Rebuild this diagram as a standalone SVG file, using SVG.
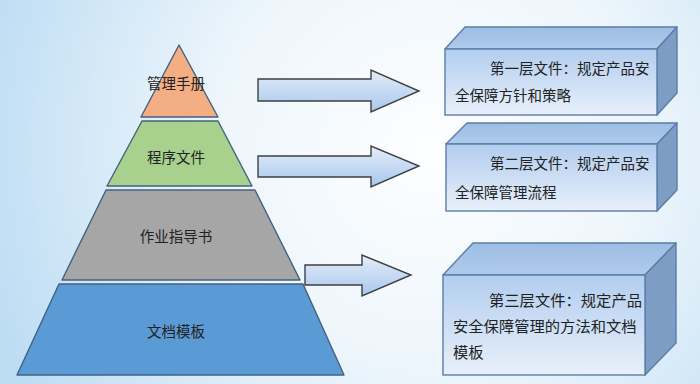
<svg xmlns="http://www.w3.org/2000/svg" width="700" height="384" viewBox="0 0 700 384">
<defs>
<radialGradient id="bg" cx="430" cy="150" r="470" gradientUnits="userSpaceOnUse">
<stop offset="0" stop-color="#fdfeff"/>
<stop offset="0.45" stop-color="#eef6fc"/>
<stop offset="1" stop-color="#bcdcf3"/>
</radialGradient>
<linearGradient id="arrowG" x1="0" y1="0" x2="0" y2="1">
<stop offset="0" stop-color="#e4edf8"/>
<stop offset="1" stop-color="#a8c7ee"/>
</linearGradient>
<linearGradient id="frontG" x1="0" y1="0" x2="0" y2="1">
<stop offset="0" stop-color="#b2cdef"/>
<stop offset="1" stop-color="#e8f0fa"/>
</linearGradient>
<linearGradient id="topG" x1="0" y1="0" x2="0" y2="1">
<stop offset="0" stop-color="#9dbde3"/>
<stop offset="1" stop-color="#b0cbec"/>
</linearGradient>
<style>
.lvl{stroke:#43617f;stroke-width:1.4;stroke-linejoin:round}
.arrow{fill:url(#arrowG);stroke:#3f3f3f;stroke-width:1.4;stroke-linejoin:miter}
.front{fill:url(#frontG);stroke:#5a7ea8;stroke-width:1.4}
.top{fill:url(#topG);stroke:#5a7ea8;stroke-width:1.4;stroke-linejoin:round}
.side{fill:#7d9dc4;stroke:#5a7ea8;stroke-width:1.4;stroke-linejoin:round}
text{font-family:"Noto Sans CJK SC","Noto Sans",sans-serif;fill:#222}
.pl{font-size:14.5px;text-anchor:middle}
.bt{font-size:14.5px}
.bt3{font-size:15.3px}
</style>
</defs>
<rect x="0" y="0" width="700" height="384" fill="url(#bg)"/>

<g id="level1">
<polygon class="lvl" fill="#f4ae84" points="179,45 218,117 141,117"/>
<text class="pl" x="176" y="88.5">管理手册</text>
</g>
<g id="level2">
<polygon class="lvl" fill="#a9d18e" points="142,121 218,121 252,186 107,186"/>
<text class="pl" x="176" y="162.5">程序文件</text>
</g>
<g id="level3">
<polygon class="lvl" fill="#a6a6a6" points="106,190 255,190 300,280 62,280"/>
<text class="pl" x="176" y="241.5">作业指导书</text>
</g>
<g id="level4">
<polygon class="lvl" fill="#5b9bd5" points="59,284 303,284 344,375 17,375"/>
<text class="pl" x="176" y="336.5">文档模板</text>
</g>

<g id="connectors">
<polygon class="arrow" points="258,79 371,79 371,70 419,91 371,112 371,101 258,101"/>
<polygon class="arrow" points="258,156 371,156 371,146 419,166 371,187 371,177 258,177"/>
<polygon class="arrow" points="305,265 362,265 362,255 411,275 362,296 362,285 305,285"/>
</g>

<g id="box1">
<polygon class="top" points="445,49 465,27 677,27 657,49"/>
<polygon class="side" points="657,49 677,27 677,93 657,115"/>
<rect class="front" x="445" y="49" width="212" height="66"/>
<text class="bt" x="490" y="73.5">第一层文件：规定产品安</text>
<text class="bt" x="455" y="100.5">全保障方针和策略</text>
</g>
<g id="box2">
<polygon class="top" points="446,144 467,123 677,123 657,144"/>
<polygon class="side" points="657,144 677,123 677,190 657,211"/>
<rect class="front" x="446" y="144" width="211" height="67"/>
<text class="bt" x="490" y="168.5">第二层文件：规定产品安</text>
<text class="bt" x="455" y="197.5">全保障管理流程</text>
</g>
<g id="box3">
<polygon class="top" points="443,275 473,243 676,243 645,275"/>
<polygon class="side" points="645,275 676,243 676,343 645,375"/>
<rect class="front" x="443" y="275" width="202" height="100"/>
<text class="bt3" x="489" y="305.8">第三层文件：规定产品</text>
<text class="bt3" x="453" y="331.8">安全保障管理的方法和文档</text>
<text class="bt3" x="453" y="357.8">模板</text>
</g>
</svg>
